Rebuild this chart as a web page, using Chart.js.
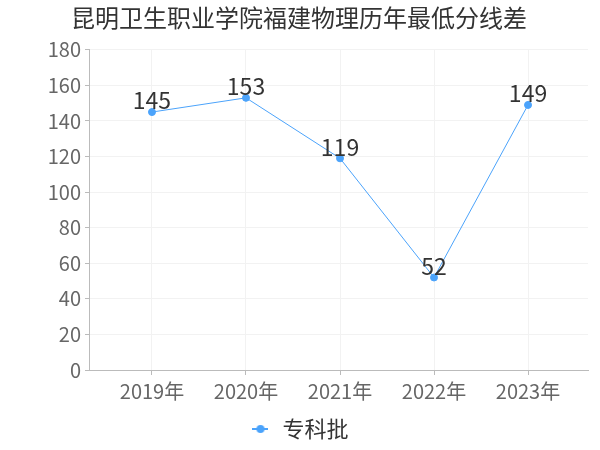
<!DOCTYPE html>
<html>
<head>
<meta charset="utf-8">
<script src="https://cdn.jsdelivr.net/npm/chart.js@4"></script>
<style>
  html, body { margin: 0; padding: 0; background: #fff; }
  #wrap { width: 600px; height: 450px; }
</style>
</head>
<body>
<div id="wrap"><canvas id="c" width="600" height="450"></canvas></div>
<script>
// chart data
const years = ['2019年', '2020年', '2021年', '2022年', '2023年'];
const scores = [145, 153, 119, 52, 149];
const seriesName = '专科批';
const chartTitle = '昆明卫生职业学院福建物理历年最低分线差';

const FONT = '"Noto Sans CJK SC", "Noto Sans", sans-serif';
const lineColor = '#4ba3fb';

// legend marker: short line with a dot in the middle
function makeLegendIcon() {
    const cv = document.createElement('canvas');
    cv.width = 16; cv.height = 10;
    const g = cv.getContext('2d');
    g.strokeStyle = lineColor;
    g.lineWidth = 2;
    g.beginPath(); g.moveTo(0, 5); g.lineTo(16, 5); g.stroke();
    g.fillStyle = lineColor;
    g.beginPath(); g.arc(8, 5, 4, 0, Math.PI * 2); g.fill();
    return cv;
}

// draws the value above each point
const valueLabels = {
    id: 'valueLabels',
    afterDatasetsDraw(chart) {
        const ctx = chart.ctx;
        const meta = chart.getDatasetMeta(0);
        ctx.save();
        ctx.font = '23px ' + FONT;
        ctx.fillStyle = '#333';
        ctx.textAlign = 'center';
        ctx.textBaseline = 'bottom';
        meta.data.forEach((pt, i) => {
            ctx.fillText(String(scores[i]), pt.x, pt.y);
        });
        ctx.restore();
    }
};

const ctx = document.getElementById('c');
new Chart(ctx, {
    type: 'line',
    data: {
        datasets: [{
            label: seriesName,
            data: scores.map((v, i) => ({ x: i, y: v })),
            borderColor: lineColor,
            backgroundColor: lineColor,
            borderWidth: 1,
            pointRadius: 3.5,
            pointHoverRadius: 3.5,
            pointStyle: 'circle',
            tension: 0
        }]
    },
    options: {
        responsive: false,
        animation: false,
        layout: { padding: { left: 10, right: 12, top: 0, bottom: 0 } },
        plugins: {
            title: {
                display: true,
                text: chartTitle,
                color: '#333',
                font: { family: FONT, size: 24, weight: 'normal' },
                padding: { top: 3, bottom: 18 }
            },
            legend: {
                position: 'bottom',
                labels: {
                    usePointStyle: true,
                    pointStyle: makeLegendIcon(),
                    color: '#333',
                    font: { family: FONT, size: 22 },
                    padding: 5
                }
            },
            tooltip: { enabled: false }
        },
        scales: {
            x: {
                type: 'linear',
                min: -0.67,
                max: 4.638,
                afterBuildTicks: (axis) => {
                    axis.ticks = years.map((_, i) => ({ value: i }));
                },
                afterFit: (axis) => { axis.height = 43; },
                ticks: {
                    color: '#666',
                    font: { family: FONT, size: 20 },
                    padding: 4,
                    callback: (v) => years[v]
                },
                grid: {
                    color: '#f2f2f2',
                    tickColor: '#bbb',
                    tickLength: 5,
                    drawTicks: true
                },
                border: { color: '#bbb', width: 1 }
            },
            y: {
                min: 0,
                max: 180,
                afterFit: (axis) => { axis.width = 79; },
                ticks: {
                    stepSize: 20,
                    color: '#666',
                    font: { family: FONT, size: 20 },
                    padding: 4
                },
                grid: {
                    color: '#f2f2f2',
                    tickColor: '#bbb',
                    tickLength: 4
                },
                border: { color: '#bbb', width: 1 }
            }
        }
    },
    plugins: [valueLabels]
});
</script>
</body>
</html>
